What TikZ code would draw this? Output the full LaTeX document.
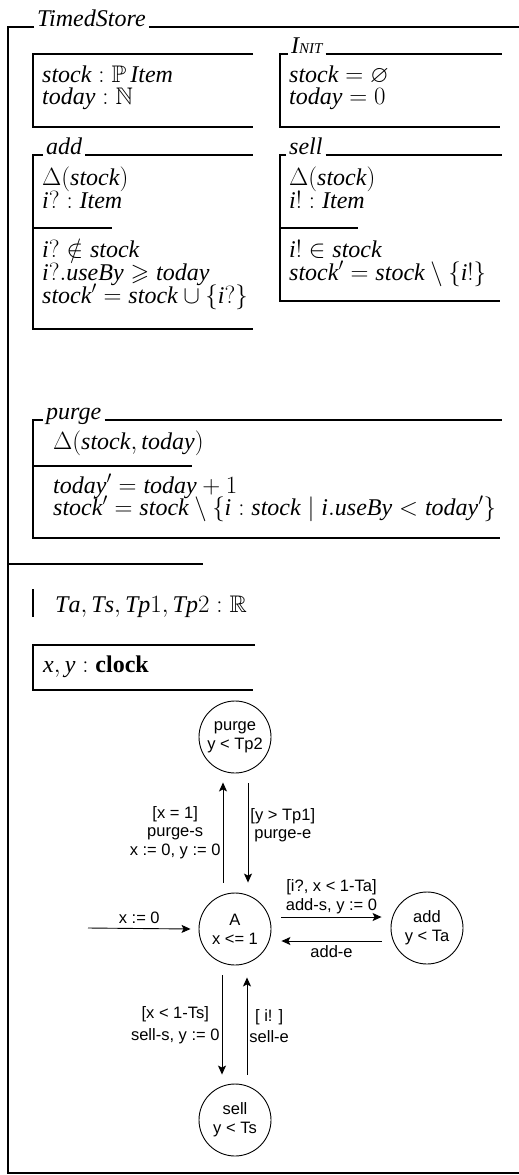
\documentclass[tikz,border=0pt]{standalone}
\usepackage{amsmath,amssymb}
\usepackage{fontspec}
\setmainfont{Liberation Serif}
\newfontfamily\autfont{Liberation Sans}
\usepackage{tikz}
\usetikzlibrary{arrows.meta,positioning}
\newcommand{\zfont}{\fontsize{24}{23}\selectfont}
\newcommand{\zid}[1]{\mathit{#1}}
\tikzset{
  zline/.style={line width=2.3pt},
  ztext/.style={anchor=base west,inner sep=0pt,font=\zfont},
  ztitle/.style={anchor=base west,inner xsep=3pt,inner ysep=0pt,font=\zfont\itshape},
  state/.style={circle,draw,line width=0.9pt,minimum size=72pt,inner sep=0pt,
    align=center,font=\autfont\fontsize{16.5}{19}\selectfont},
  trans/.style={-{Stealth[length=9pt,width=8pt,inset=2pt]},line width=0.9pt},
  lbl/.style={align=center,inner sep=2pt,font=\autfont\fontsize{16.5}{18.5}\selectfont}
}
\begin{document}
\begin{tikzpicture}[x=1pt,y=-1pt]
\useasboundingbox (0,0) rectangle (519,1175);

% outer schema
\coordinate (otl) at (8,27);
\node[ztitle] (tsname) at (34,26) {TimedStore};
\draw[zline] (tsname.west |- otl) -- (otl) -- (8,1173) -- (519,1173);
\draw[zline] (tsname.east |- otl) -- (519,27);
\draw[zline] (8,564) -- (203,564);

% state
\draw[zline] (253,54) -- (33,54) -- (33,127) -- (253,127);
\node[ztext] (st1) at (42,82) {$\zid{stock} : \mathbb{P}\,\zid{Item}$};
\node[ztext] (st2) at (42,104) {$\zid{today} : \mathbb{N}$};

% init
\coordinate (itl) at (280,54);
\node[ztitle] (initname) at (288,53) {I\fontsize{15}{15}\selectfont NIT};
\draw[zline] (initname.west |- itl) -- (itl) -- (280,127) -- (500,127);
\draw[zline] (initname.east |- itl) -- (502,54);
\node[ztext] (in1) at (289,82) {$\zid{stock} = \varnothing$};
\node[ztext] (in2) at (289,104) {$\zid{today} = 0$};

% add
\coordinate (atl) at (33,155);
\node[ztitle] (addname) at (43,154) {add};
\draw[zline] (addname.west |- atl) -- (atl) -- (33,329) -- (253,329);
\draw[zline] (addname.east |- atl) -- (253,155);
\draw[zline] (33,228) -- (112,228);
\node[ztext] (ad1) at (42,185) {$\Delta(\zid{stock})$};
\node[ztext] (ad2) at (42,208) {$\zid{i?} : \zid{Item}$};
\node[ztext] (ad3) at (42,257) {$\zid{i?} \notin \zid{stock}$};
\node[ztext] (ad4) at (42,280) {$\zid{i?.useBy} \geqslant \zid{today}$};
\node[ztext] (ad5) at (42,303) {$\zid{stock}' = \zid{stock} \cup \{\zid{i?}\}$};

% sell
\coordinate (stl) at (280,155);
\node[ztitle] (sellname) at (286,154) {sell};
\draw[zline] (sellname.west |- stl) -- (stl) -- (280,301) -- (500,301);
\draw[zline] (sellname.east |- stl) -- (502,155);
\draw[zline] (280,228) -- (358,228);
\node[ztext] (se1) at (289,185) {$\Delta(\zid{stock})$};
\node[ztext] (se2) at (289,208) {$\zid{i!} : \zid{Item}$};
\node[ztext] (se3) at (289,257) {$\zid{i!} \in \zid{stock}$};
\node[ztext] (se4) at (289,280) {$\zid{stock}' = \zid{stock} \setminus \{\zid{i!}\}$};

% purge
\coordinate (ptl) at (33,420);
\node[ztitle] (purgename) at (43,419) {purge};
\draw[zline] (purgename.west |- ptl) -- (ptl) -- (33,538) -- (500,538);
\draw[zline] (purgename.east |- ptl) -- (502,420);
\draw[zline] (33,466) -- (192,466);
\node[ztext] (pu1) at (53,449) {$\Delta(\zid{stock}, \zid{today})$};
\node[ztext] (pu2) at (53,493) {$\zid{today}' = \zid{today} + 1$};
\node[ztext] (pu3) at (53,515) {$\zid{stock}' = \zid{stock} \setminus \{\zid{i} : \zid{stock} \mid \zid{i.useBy} < \zid{today}'\}$};

% constants and clocks
\draw[zline] (33,589) -- (33,617);
\node[ztext] (consts) at (55,612) {$\zid{Ta}, \zid{Ts}, \zid{Tp}1, \zid{Tp}2 : \mathbb{R}$};
\draw[zline] (255,645) -- (33,645) -- (33,690) -- (253,690);
\node[ztext] (clocks) at (43,672) {$\zid{x}, \zid{y} : \mathbf{clock}$};

% automaton
\node[state] (purge) at (235,737) {purge\\y < Tp2};
\node[state] (A) at (235,929) {A\\x <= 1};
\node[state] (add) at (427,928) {add\\y < Ta};
\node[state] (sell) at (235,1120) {sell\\y < Ts};
\coordinate (init) at (88,928);

\draw[trans] (init) -- node[lbl,above,inner ysep=4pt] {x := 0} ([xshift=-8pt]A.west);
\draw[trans] ([xshift=-12pt,yshift=10pt]A.north) -- node[lbl,left]
  {[x = 1]\\purge-s\\x := 0, y := 0} ([xshift=-12pt,yshift=-9pt]purge.south);
\draw[trans] ([xshift=13pt,yshift=-10pt]purge.south) -- node[lbl,right,pos=0.42]
  {[y > Tp1]\\purge-e} ([xshift=13pt,yshift=10pt]A.north);
\draw[trans] ([xshift=10pt,yshift=12pt]A.east) -- node[lbl,above,inner ysep=3pt]
  {[i?, x < 1-Ta]\\add-s, y := 0} ([xshift=-9pt,yshift=11pt]add.west);
\draw[trans] ([xshift=-9pt,yshift=-13pt]add.west) -- node[lbl,below,inner ysep=4pt]
  {add-e} ([xshift=10pt,yshift=-12pt]A.east);
\draw[trans] ([xshift=-13pt,yshift=-10pt]A.south) -- node[lbl,left]
  {[x < 1-Ts]\\[3pt]sell-s, y := 0} ([xshift=-13pt,yshift=9pt]sell.north);
\draw[trans] ([xshift=12pt,yshift=9pt]sell.north) -- node[lbl,right]
  {[ i! ]\\[3pt]sell-e} ([xshift=12pt,yshift=-12pt]A.south);
\end{tikzpicture}
\end{document}
